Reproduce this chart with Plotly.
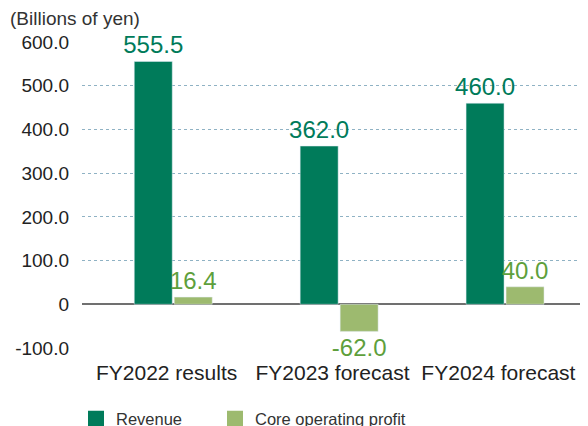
import plotly.graph_objects as go

categories = ["FY2022 results", "FY2023 forecast", "FY2024 forecast"]
revenue = [555.5, 362.0, 460.0]
core_profit = [16.4, -62.0, 40.0]
tick_vals = [-100, 0, 100, 200, 300, 400, 500, 600]
tick_text = ["-100.0", "0", "100.0", "200.0", "300.0", "400.0", "500.0", "600.0"]

rev_color = "#007B5A"
core_color = "#9DBA6F"
font_family = "Liberation Sans, Arial, sans-serif"

# page has an 8px body margin, so the figure is drawn 8px smaller
W, H = 580, 418

fig = go.Figure()
fig.add_trace(go.Bar(
    x=categories, y=revenue, name="Revenue", marker_color=rev_color,
    text=[f"{v:.1f}" for v in revenue], textposition="outside", constraintext="none",
    textfont=dict(size=24, color=rev_color), cliponaxis=False, showlegend=False,
))
fig.add_trace(go.Bar(
    x=categories, y=core_profit, name="Core operating profit", marker_color=core_color,
    text=[f"{v:.1f}" for v in core_profit], textposition="outside", constraintext="none",
    textfont=dict(size=24, color="#5E9F3C"), cliponaxis=False, showlegend=False,
))
# invisible trace carrying the category labels (drawn slightly left of the bars)
fig.add_trace(go.Scatter(x=categories, y=[None] * len(categories), xaxis="x2",
                         mode="markers", showlegend=False, hoverinfo="skip"))

# legend entries with bigger square swatches, one legend each
fig.add_trace(go.Scatter(x=[None], y=[None], mode="markers", name="Revenue",
                         marker=dict(symbol="square", size=20, color=rev_color),
                         legend="legend"))
fig.add_trace(go.Scatter(x=[None], y=[None], mode="markers", name="Core operating profit",
                         marker=dict(symbol="square", size=20, color=core_color),
                         legend="legend2"))

leg_common = dict(orientation="h", xref="container", yref="container",
                  xanchor="left", yanchor="middle", itemwidth=30,
                  font=dict(size=16.5, color="#333"))

fig.update_layout(
    width=W, height=H,
    margin=dict(l=74, r=0, t=34, b=78, autoexpand=False),
    plot_bgcolor="white", paper_bgcolor="white",
    font=dict(family=font_family, size=19, color="#222"),
    barmode="group", bargap=0.518, bargroupgap=0.05,
    legend=dict(x=68 / W, y=7 / H, **leg_common),
    legend2=dict(x=207 / W, y=7 / H, **leg_common),
    annotations=[dict(text="(Billions of yen)", xref="paper", yref="paper",
                      x=-0.146, y=1.078, xanchor="left", yanchor="middle",
                      showarrow=False, font=dict(size=19, color="#333"))],
    xaxis=dict(range=[-0.55, 2.5], showgrid=False, ticks="", showticklabels=False),
    xaxis2=dict(overlaying="x", side="bottom", anchor="y", type="category",
                range=[-0.51, 2.54], showgrid=False, ticks="", showline=False,
                tickfont=dict(size=21), ticklabelstandoff=10),
)
fig.update_yaxes(
    range=[-100, 600], tickvals=tick_vals, ticktext=tick_text,
    showgrid=True, gridcolor="#8FB2C4", griddash="dot", gridwidth=1,
    zeroline=True, zerolinecolor="#707070", zerolinewidth=2,
    ticks="", ticklabelstandoff=12,
)

fig.write_html("out.html")
